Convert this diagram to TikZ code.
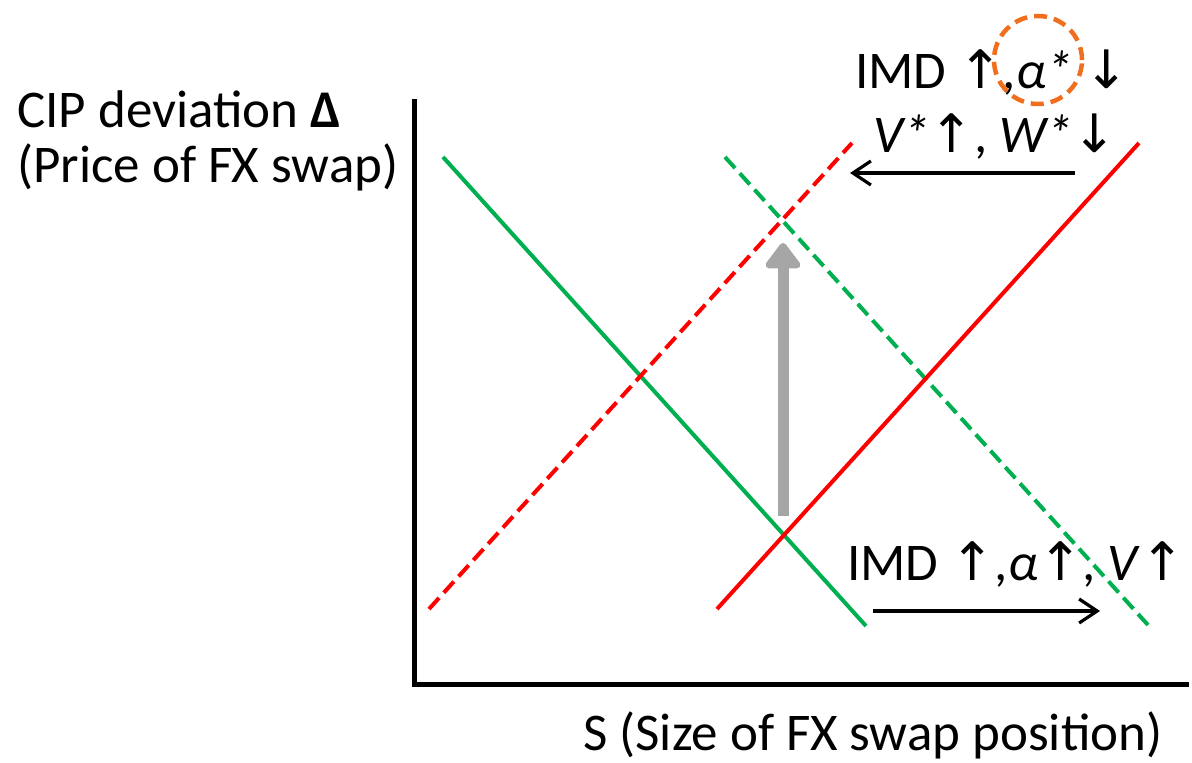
\documentclass[tikz,border=0pt]{standalone}
\usepackage{fontspec}
\setmainfont{Carlito}
\newfontfamily\symf{DejaVu Sans}
\usetikzlibrary{arrows.meta}
\definecolor{cgreen}{RGB}{0,176,80}
\definecolor{cred}{RGB}{255,0,0}
\definecolor{cgray}{RGB}{166,166,166}
\definecolor{corange}{RGB}{240,110,30}
\newcommand{\ua}{{\symf ↑}}
\newcommand{\da}{{\symf ↓}}
\tikzset{
  lbl/.style={anchor=base west, inner sep=0pt, font=\fontsize{53}{60}\selectfont},
  curve/.style={line width=4pt},
  dsh/.style={curve, dash pattern=on 15pt off 7pt},
  axis/.style={line width=5pt},
  shift arrow/.style={line width=3.2pt, -{Straight Barb[length=18pt,width=24pt]}},
}
\begin{document}
\begin{tikzpicture}[x=1pt,y=-1pt]
\useasboundingbox (0,0) rectangle (1192,763);
% axes
\coordinate (ytop) at (414,101);
\coordinate (orig) at (414,684);
\coordinate (xend) at (1186,684);
\draw[axis, line cap=rect] (ytop) -- (orig) -- (xend);
% curves
\coordinate (g1a) at (443,157); \coordinate (g1b) at (866,626);
\coordinate (g2a) at (725,157); \coordinate (g2b) at (1148,625);
\coordinate (r1a) at (717,609); \coordinate (r1b) at (1139,143);
\coordinate (r2a) at (429,609); \coordinate (r2b) at (852,143);
\draw[curve, cgreen] (g1a) -- (g1b);
\draw[dsh, cgreen] (g2a) -- (g2b);
\draw[curve, cred] (r1a) -- (r1b);
\draw[dsh, cred] (r2a) -- (r2b);
% gray arrow
\coordinate (ga) at (783,516); \coordinate (gb) at (783,243);
\draw[line width=11pt, cgray, -{Triangle[width=40pt,length=28pt,round]}] (ga) -- (gb);
% shift arrows
\coordinate (ta) at (1075,173); \coordinate (tb) at (850,173);
\draw[shift arrow] (ta) -- (tb);
\coordinate (ba) at (873,611); \coordinate (bb) at (1100,611);
\draw[shift arrow] (ba) -- (bb);
% labels
\node[lbl] (ylab1) at (17,127) {CIP deviation \textbf{Δ}};
\node[lbl] (ylab2) at (17,182) {(Price of FX swap)};
\node[lbl] (xlab) at (583,750) {S (Size of FX swap position)};
\node[lbl] (top1) at (855,88) {IMD \ua,\textit{α*} \da};
\node[lbl] (top2) at (873,152) {\textit{V*}\ua, \textit{W*}\da};
\node[lbl] (bot1) at (847,580) {IMD \ua,\textit{α}\ua, \textit{V}\ua};
% orange circle
\node[draw=corange, line width=4.5pt, dash pattern=on 13pt off 7pt, circle, minimum size=88pt, inner sep=0pt] (hl) at (1038,60) {};
\end{tikzpicture}
\end{document}
